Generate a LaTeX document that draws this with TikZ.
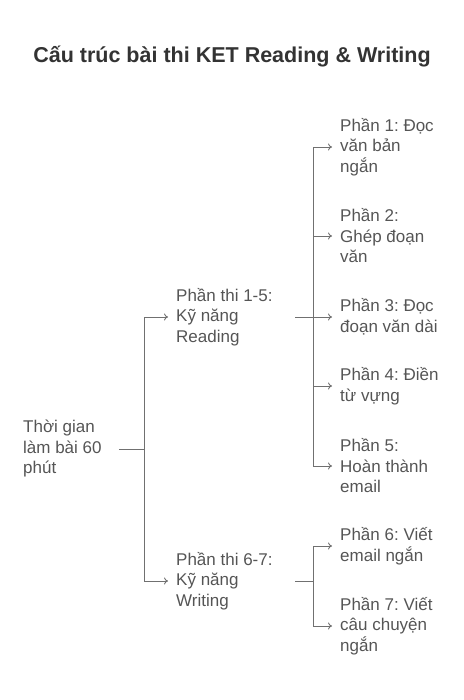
\documentclass[tikz,border=0pt]{standalone}
\usepackage{fontspec}
\setmainfont{Liberation Sans}
\usetikzlibrary{arrows.meta}
\definecolor{txt}{HTML}{555555}
\definecolor{ttl}{HTML}{333333}
\definecolor{ln}{HTML}{707070}
\frenchspacing
\begin{document}
\begin{tikzpicture}[x=1pt,y=-1pt,
  lbl/.style={anchor=west,inner sep=0pt,align=left,text=txt,font=\frenchspacing\fontsize{17}{20.5}\selectfont},
  conn/.style={draw=ln,line width=0.9pt},
  arr/.style={conn,-{To[length=4pt,width=7pt]},shorten >=8pt}]
\useasboundingbox (0,0) rectangle (463,700);
\node[font=\frenchspacing\bfseries\fontsize{21.5}{25}\selectfont,text=ttl,inner sep=0pt] (title) at (232,57) {Cấu trúc bài thi KET Reading \& Writing};
\node[lbl] (root) at (23,449) {Thời gian\\làm bài 60\\phút};
\node[lbl] (r) at (176,317) {Phần thi 1-5:\\Kỹ năng\\Reading};
\node[lbl] (w) at (176,581) {Phần thi 6-7:\\Kỹ năng\\Writing};
\node[lbl] (p1) at (340,147) {Phần 1: Đọc\\văn bản\\ngắn};
\node[lbl] (p2) at (340,236) {Phần 2:\\Ghép đoạn\\văn};
\node[lbl] (p3) at (340,317) {Phần 3: Đọc\\đoạn văn dài};
\node[lbl] (p4) at (340,386) {Phần 4: Điền\\từ vựng};
\node[lbl] (p5) at (340,466) {Phần 5:\\Hoàn thành\\email};
\node[lbl] (p6) at (340,546) {Phần 6: Viết\\email ngắn};
\node[lbl] (p7) at (340,626) {Phần 7: Viết\\câu chuyện\\ngắn};
\coordinate (j0) at (144,449);
\coordinate (j1) at (313,317);
\coordinate (j2) at (313,581);
\draw[conn,shorten <=17pt] (root.east) -- (j0);
\draw[arr] (j0) |- (r.west);
\draw[arr] (j0) |- (w.west);
\draw[conn] (j1 -| 295,0) -- (j1);
\draw[conn] (j2 -| 295,0) -- (j2);
\foreach \p in {p1,p2,p3,p4,p5} \draw[arr] (j1) |- (\p.west);
\foreach \p in {p6,p7} \draw[arr] (j2) |- (\p.west);
\end{tikzpicture}
\end{document}
